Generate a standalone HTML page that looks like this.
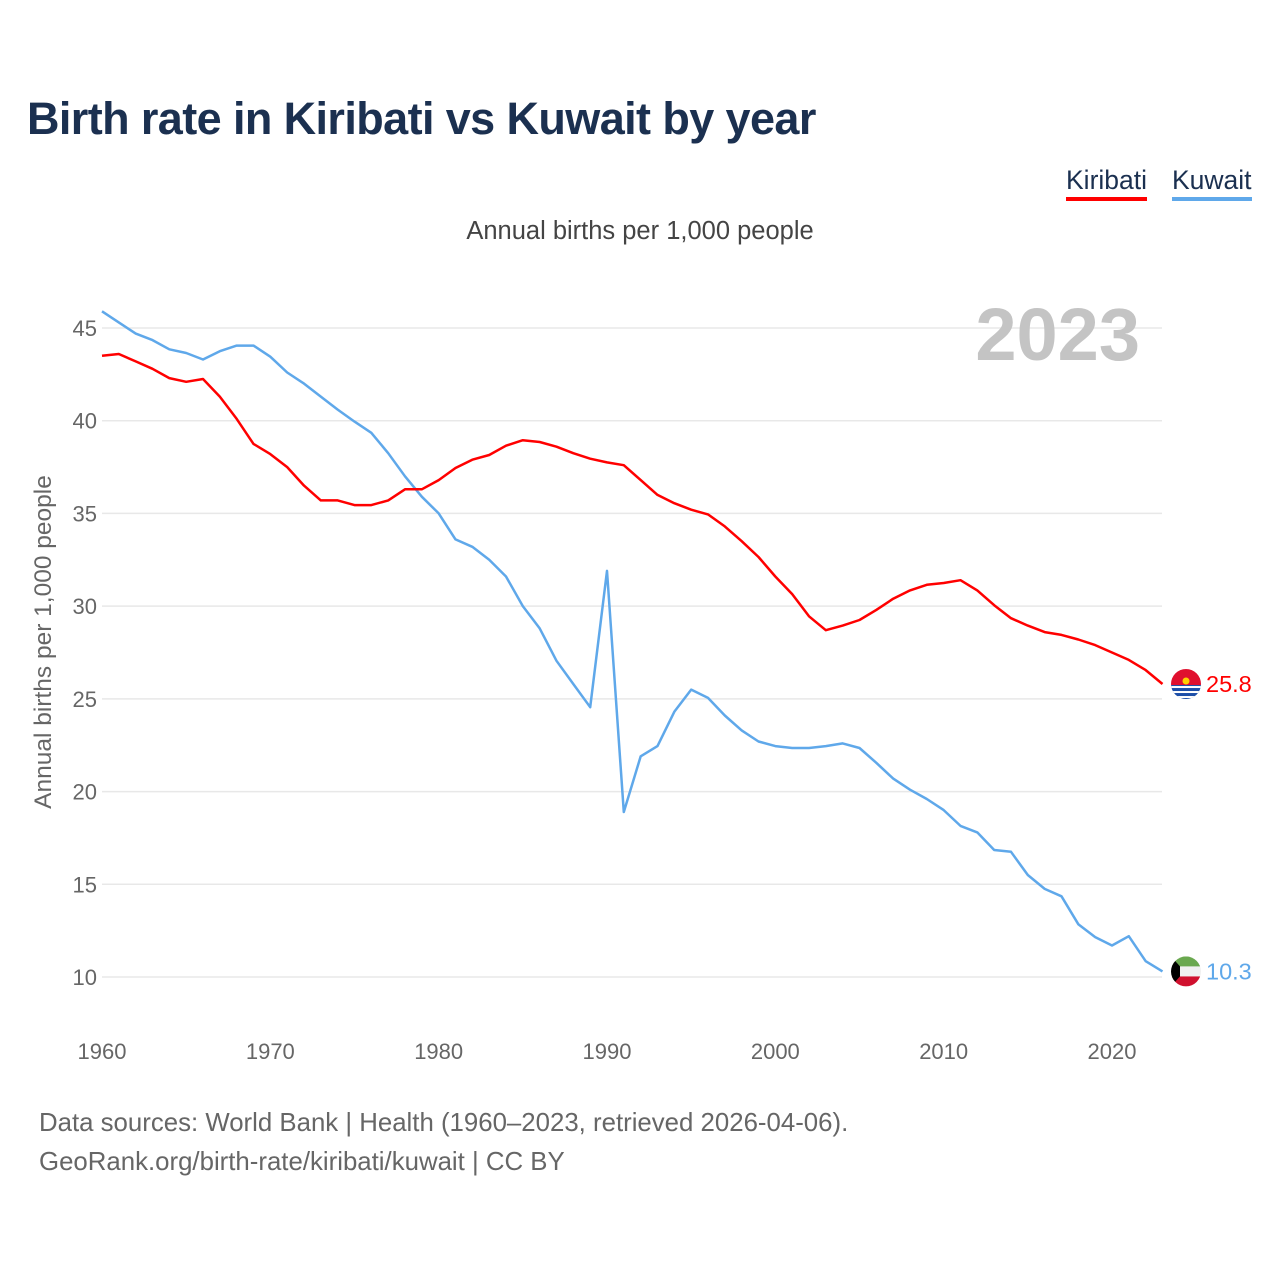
<!DOCTYPE html>
<html><head><meta charset="utf-8">
<style>
body{margin:0;background:#fff;font-family:"Liberation Sans",sans-serif;}
#wrap{position:relative;width:1280px;height:1280px;overflow:hidden;}
.t{position:absolute;white-space:nowrap;}
</style></head>
<body>
<div id="wrap">
<div class="t" style="left:27px;top:93px;font-size:45px;font-weight:bold;color:#1b3050;letter-spacing:-0.6px;">Birth rate in Kiribati vs Kuwait by year</div>
<div class="t" style="left:1066px;top:165px;font-size:26.5px;color:#1b3050;border-bottom:4px solid #ff0000;padding-bottom:1px;">Kiribati</div>
<div class="t" style="left:1172px;top:165px;font-size:26.5px;color:#1b3050;border-bottom:4px solid #5fa8ea;padding-bottom:1px;">Kuwait</div>
<div class="t" style="left:0;width:1280px;text-align:center;top:217px;font-size:25.5px;color:#444;">Annual births per 1,000 people</div>
<div class="t" style="left:39px;top:1104px;font-size:25.8px;color:#666;line-height:39px;">Data sources: World Bank | Health (1960–2023, retrieved 2026-04-06).<br>GeoRank.org/birth-rate/kiribati/kuwait | CC BY</div>
<svg id="chart" width="1280" height="1280" style="position:absolute;left:0;top:0;"></svg>
</div>
<script>
const years=[];for(let y=1960;y<=2023;y++)years.push(y);
const kiribati=[43.5,43.6,43.2,42.8,42.3,42.1,42.25,41.3,40.1,38.75,38.2,37.5,36.5,35.7,35.7,35.45,35.45,35.7,36.3,36.3,36.8,37.45,37.9,38.15,38.65,38.95,38.85,38.6,38.25,37.95,37.75,37.6,36.8,36.0,35.55,35.2,34.95,34.3,33.5,32.65,31.6,30.65,29.45,28.7,28.95,29.25,29.8,30.4,30.85,31.15,31.25,31.4,30.85,30.05,29.35,28.95,28.6,28.45,28.2,27.9,27.5,27.1,26.55,25.8];
const kuwait=[45.9,45.3,44.7,44.35,43.85,43.65,43.3,43.75,44.05,44.05,43.45,42.6,42.0,41.3,40.6,39.95,39.35,38.25,37.0,35.9,35.0,33.6,33.2,32.5,31.6,30.0,28.8,27.05,25.8,24.55,31.9,18.9,21.9,22.45,24.3,25.5,25.05,24.1,23.3,22.7,22.45,22.35,22.35,22.45,22.6,22.35,21.55,20.7,20.1,19.6,19.0,18.15,17.8,16.85,16.75,15.5,14.75,14.35,12.85,12.15,11.7,12.2,10.85,10.3];
const yTicks=[10,15,20,25,30,35,40,45];
const xTicks=[1960,1970,1980,1990,2000,2010,2020];
const NS="http://www.w3.org/2000/svg";
const svg=document.getElementById('chart');
const xs=y=>102+(y-1960)*(1010/60);
const ys=v=>328+(45-v)*(649/35);
function mk(tag,attrs,parent){const e=document.createElementNS(NS,tag);for(const k in attrs)e.setAttribute(k,attrs[k]);(parent||svg).appendChild(e);return e;}
yTicks.forEach(v=>{
  const l=mk('line',{x1:102,x2:1162,y1:ys(v),y2:ys(v),stroke:'#e8e8e8','stroke-width':1.5});
  
  
  const t=mk('text',{x:97,y:ys(v)+8,'text-anchor':'end','font-size':22,fill:'#666','font-family':'Liberation Sans, sans-serif'});
  t.textContent=v;
  
  
});
xTicks.forEach(y=>{
  const t=mk('text',{x:xs(y),y:1059,'text-anchor':'middle','font-size':22,fill:'#666','font-family':'Liberation Sans, sans-serif'});
  t.textContent=y;
  
  
});
const yt=mk('text',{x:0,y:0,transform:'translate(51,642) rotate(-90)','text-anchor':'middle','font-size':24.5,fill:'#666','font-family':'Liberation Sans, sans-serif'});
yt.textContent='Annual births per 1,000 people';


const yr=mk('text',{x:1140,y:360,'text-anchor':'end','font-size':74,'font-weight':'bold',fill:'#c4c4c4','font-family':'Liberation Sans, sans-serif'});
yr.textContent='2023';


function line(arr,color,name){
  const d=arr.map((v,i)=>(i?'L':'M')+xs(years[i]).toFixed(1)+','+ys(v).toFixed(1)).join('');
  const p=mk('path',{d:d,fill:'none',stroke:color,'stroke-width':2.5,'stroke-linejoin':'round'});
  
  
}
line(kuwait,'#5fa8ea','kuwait-line');
line(kiribati,'#ff0000','kiribati-line');
const fx=1186;
const ky=ys(kiribati[kiribati.length-1]);
const cp=mk('clipPath',{id:'c1'});mk('circle',{cx:fx,cy:ky,r:15},cp);
const g1=mk('g',{'clip-path':'url(#c1)'});


mk('rect',{x:fx-15,y:ky-15,width:30,height:16,fill:'#e0102e'},g1);
mk('rect',{x:fx-15,y:ky+1,width:30,height:14,fill:'#1d4fa8'},g1);
[2,7,12].forEach(o=>mk('rect',{x:fx-15,y:ky+o,width:30,height:2,fill:'#fff'},g1));
mk('circle',{cx:fx,cy:ky-3,r:3.5,fill:'#ffd000'},g1);
const ky2=ys(kuwait[kuwait.length-1]);
const cp2=mk('clipPath',{id:'c2'});mk('circle',{cx:fx,cy:ky2,r:15},cp2);
const g2=mk('g',{'clip-path':'url(#c2)'});


mk('rect',{x:fx-15,y:ky2-15,width:30,height:10,fill:'#6aa84f'},g2);
mk('rect',{x:fx-15,y:ky2-5,width:30,height:10,fill:'#f0f0f0'},g2);
mk('rect',{x:fx-15,y:ky2+5,width:30,height:10,fill:'#d0102e'},g2);
mk('polygon',{points:(fx-15)+','+(ky2-15)+' '+(fx-6)+','+(ky2-5)+' '+(fx-6)+','+(ky2+5)+' '+(fx-15)+','+(ky2+15),fill:'#000'},g2);
function endLabel(v,y,color,name){
  const t=mk('text',{x:1206,y:y+8,'font-size':23.5,fill:color,'font-family':'Liberation Sans, sans-serif'});
  t.textContent=v.toFixed(1);
  
  
}
endLabel(kiribati[kiribati.length-1],ky,'#ff0000','kiribati-end-label');
endLabel(kuwait[kuwait.length-1],ky2,'#5fa8ea','kuwait-end-label');
</script>
</body></html>
